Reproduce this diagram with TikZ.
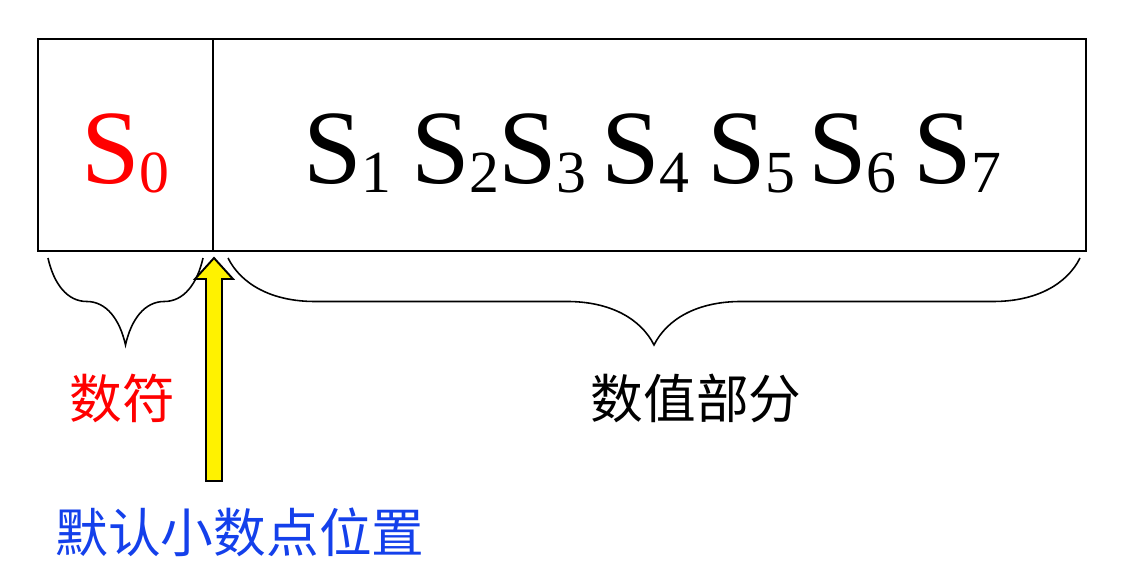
\documentclass[tikz,border=0pt]{standalone}
\usepackage{fontspec}
\setmainfont{Liberation Serif}
\newfontfamily\timesf{Liberation Serif}
\newfontfamily\cjk{Noto Sans CJK SC}
\usetikzlibrary{decorations.pathreplacing,positioning}
\definecolor{ptblue}{RGB}{20,64,235}
\newcommand\subidx[1]{\raisebox{-0.2cm}{\fontsize{34}{34}\selectfont #1}}

\begin{document}
\begin{tikzpicture}[x=0.02cm,y=-0.02cm,
  bigS/.style={font=\timesf\fontsize{60}{60}\selectfont,inner sep=0pt,anchor=base west},
  cjklabel/.style={font=\cjk\fontsize{30}{30}\selectfont,inner sep=0pt},
  brc/.style={decorate,decoration={brace,amplitude=1.74cm,aspect=0.5},line width=0.9pt}]
  \useasboundingbox (0,0) rectangle (1141,564);
  \draw[line width=1.2pt] (38,39) rectangle (1086,251); % 字长框
  \draw[line width=1.6pt] (38,39) -- (1086,39); % 上边稍粗
  \draw[line width=1pt] (213,39) -- (213,251); % 数符与数值的分界
  \node[bigS,text=red] (s0) at (81,183) {S\subidx{0}};
  \foreach \i/\x in {1/303,2/411,3/498,4/601,5/707,6/808,7/913}
    \node[bigS] (s\i) at (\x,183) {S\subidx{\i}};
  \draw[brc] (203,258) -- (48,258); % 数符
  \draw[brc] (1080,258) -- (228,258); % 数值部分
  \node[cjklabel,text=red] (sign) at (122,398) {数符};
  \node[cjklabel] (value) at (696,398) {数值部分};
  \filldraw[fill=yellow,draw=black,line width=1.1pt] (214,258) -- (233,279) -- (222,279) -- (222,481)
    -- (206,481) -- (206,279) -- (195,279) -- cycle; % 小数点位置的箭头
  \node[cjklabel,text=ptblue] (point) at (240,532) {默认小数点位置};
\end{tikzpicture}
\end{document}
